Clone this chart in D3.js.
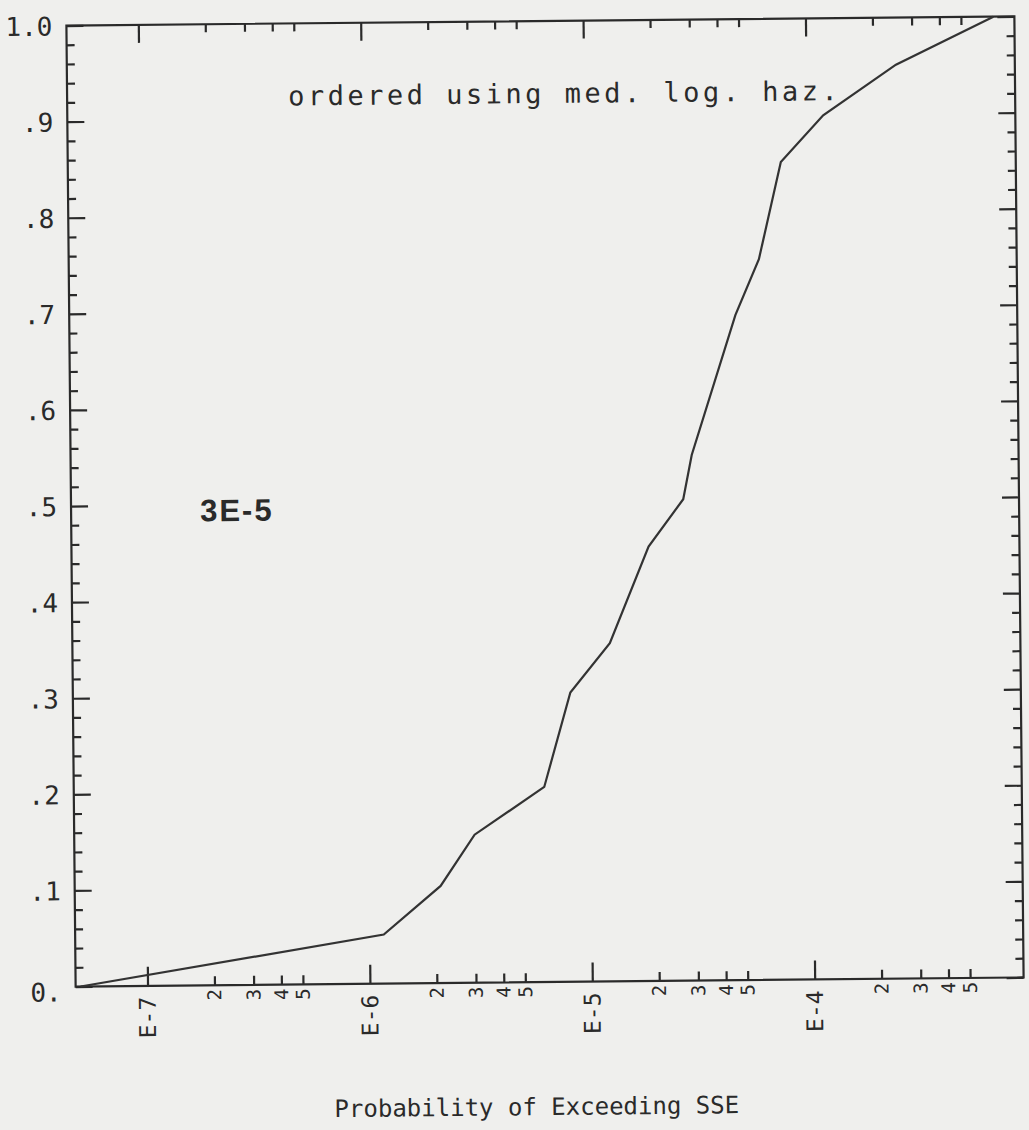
<!DOCTYPE html>
<html>
<head>
<meta charset="utf-8">
<script src="https://cdn.jsdelivr.net/npm/d3@7"></script>
<style>
  body { margin: 0; background: #efefed; }
  text { fill: #2a2a2a; }
  .tick line { stroke: #2a2a2a; stroke-width: 2.2; }
</style>
</head>
<body>
<div id="chart"></div>
<script>
// exceedance probability (x) and cumulative fraction (y)
const probs = [5.0e-8, 1.16e-6, 2.1e-6, 3.0e-6, 6.2e-6, 8.2e-6, 1.24e-5, 1.87e-5,
  2.69e-5, 2.95e-5, 4.7e-5, 6.03e-5, 7.64e-5, 1.19e-4, 2.54e-4, 7.0e-4];
const fractions = [0, 0.051, 0.101, 0.154, 0.203, 0.301, 0.352, 0.452,
  0.501, 0.547, 0.692, 0.75, 0.851, 0.899, 0.951, 1.0];

const decadeTicks = [1e-7, 1e-6, 1e-5, 1e-4];
const decadeLabels = ["E-7", "E-6", "E-5", "E-4"];
const mantissas = [2, 3, 4, 5];
const yMajorTicks = [0, 0.1, 0.2, 0.3, 0.4, 0.5, 0.6, 0.7, 0.8, 0.9, 1.0];
const yTickLabels = ["0.", ".1", ".2", ".3", ".4", ".5", ".6", ".7", ".8", ".9", "1.0"];

const svgWidth = 1029;
const svgHeight = 1130;
const margin = { top: 21, left: 71 };
const width = 948;
const height = 961;
const mono = "DejaVu Sans Mono, monospace";

const minorTicks = [];
decadeTicks.forEach(d => mantissas.forEach(m => minorTicks.push(m * d)));
const yMinorTicks = d3.range(0, 51).map(i => i / 50).filter((v, i) => i % 5 !== 0);

const svg = d3.select("#chart")
  .append("svg")
  .attr("width", svgWidth)
  .attr("height", svgHeight);

// the scanned page sits slightly crooked
const page = svg.append("g")
  .attr("transform", "rotate(-0.55, 545, 501)");

const chartGroup = page.append("g")
  .attr("transform", `translate(${margin.left}, ${margin.top})`);

const x = d3.scaleLog()
  .domain([4.75e-8, 8.7e-4])
  .range([0, width]);

const y = d3.scaleLinear()
  .domain([0, 1])
  .range([height, 0]);

function noDomain(g) { g.select(".domain").remove(); }

// bottom + top ticks, pointing inward
chartGroup.append("g")
  .attr("transform", `translate(0, ${height})`)
  .call(d3.axisBottom(x).tickValues(decadeTicks).tickSize(-19).tickFormat(""))
  .call(noDomain);
chartGroup.append("g")
  .attr("transform", `translate(0, ${height})`)
  .call(d3.axisBottom(x).tickValues(minorTicks).tickSize(-9).tickFormat(""))
  .call(noDomain);
chartGroup.append("g")
  .call(d3.axisTop(x).tickValues(decadeTicks).tickSize(-18).tickFormat(""))
  .call(noDomain);
chartGroup.append("g")
  .call(d3.axisTop(x).tickValues(minorTicks).tickSize(-8).tickFormat(""))
  .call(noDomain);

// left + right ticks
chartGroup.append("g")
  .call(d3.axisLeft(y).tickValues(yMajorTicks).tickSize(-17).tickPadding(14)
    .tickFormat((d, i) => yTickLabels[i]))
  .call(noDomain)
  .call(g => g.selectAll("text")
    .attr("font-family", mono)
    .attr("font-size", 26)
    .attr("dy", d => d === 0 ? "0.55em" : "0.36em")
    .style("fill", "#2a2a2a"));
chartGroup.append("g")
  .call(d3.axisLeft(y).tickValues(yMinorTicks).tickSize(-8).tickFormat(""))
  .call(noDomain);
chartGroup.append("g")
  .attr("transform", `translate(${width}, 0)`)
  .call(d3.axisRight(y).tickValues(yMajorTicks).tickSize(-17).tickFormat(""))
  .call(noDomain);
chartGroup.append("g")
  .attr("transform", `translate(${width}, 0)`)
  .call(d3.axisRight(y).tickValues(yMinorTicks).tickSize(-8).tickFormat(""))
  .call(noDomain);

// rotated x labels
chartGroup.selectAll(".decade-label")
  .data(decadeTicks)
  .enter()
  .append("text")
  .attr("class", "decade-label")
  .attr("transform", d => `translate(${x(d)}, ${height + 11}) rotate(-90)`)
  .attr("text-anchor", "end")
  .attr("dy", "0.35em")
  .attr("font-family", mono)
  .attr("font-size", 23)
  .text((d, i) => decadeLabels[i]);

chartGroup.selectAll(".minor-label")
  .data(minorTicks)
  .enter()
  .append("text")
  .attr("class", "minor-label")
  .attr("transform", d => `translate(${x(d)}, ${height + 4}) rotate(-90)`)
  .attr("text-anchor", "end")
  .attr("dy", "0.35em")
  .attr("font-family", mono)
  .attr("font-size", 19)
  .text(d => String(Math.round(d / Math.pow(10, Math.floor(Math.log10(d) + 1e-9)))));

// frame
chartGroup.append("rect")
  .attr("width", width)
  .attr("height", height)
  .attr("fill", "none")
  .attr("stroke", "#2a2a2a")
  .attr("stroke-width", 2.2);

// curve
const data = probs.map((p, i) => ({ p: p, f: fractions[i] }));
chartGroup.append("path")
  .datum(data)
  .attr("fill", "none")
  .attr("stroke", "#333")
  .attr("stroke-width", 2.2)
  .attr("d", d3.line().x(d => x(d.p)).y(d => y(d.f)));

// annotations
page.append("text")
  .attr("x", 292)
  .attr("y", 103)
  .attr("font-family", mono)
  .attr("font-size", 27)
  .attr("letter-spacing", 3.5)
  .text("ordered using med. log. haz.");

page.append("text")
  .attr("x", 200)
  .attr("y", 518)
  .attr("font-family", "Liberation Sans, Arial, sans-serif")
  .attr("font-weight", "bold")
  .attr("font-size", 31)
  .attr("letter-spacing", 2)
  .text("3E-5");

page.append("text")
  .attr("x", 531)
  .attr("y", 1115)
  .attr("text-anchor", "middle")
  .attr("font-family", mono)
  .attr("font-size", 24)
  .text("Probability of Exceeding SSE");
</script>
</body>
</html>
